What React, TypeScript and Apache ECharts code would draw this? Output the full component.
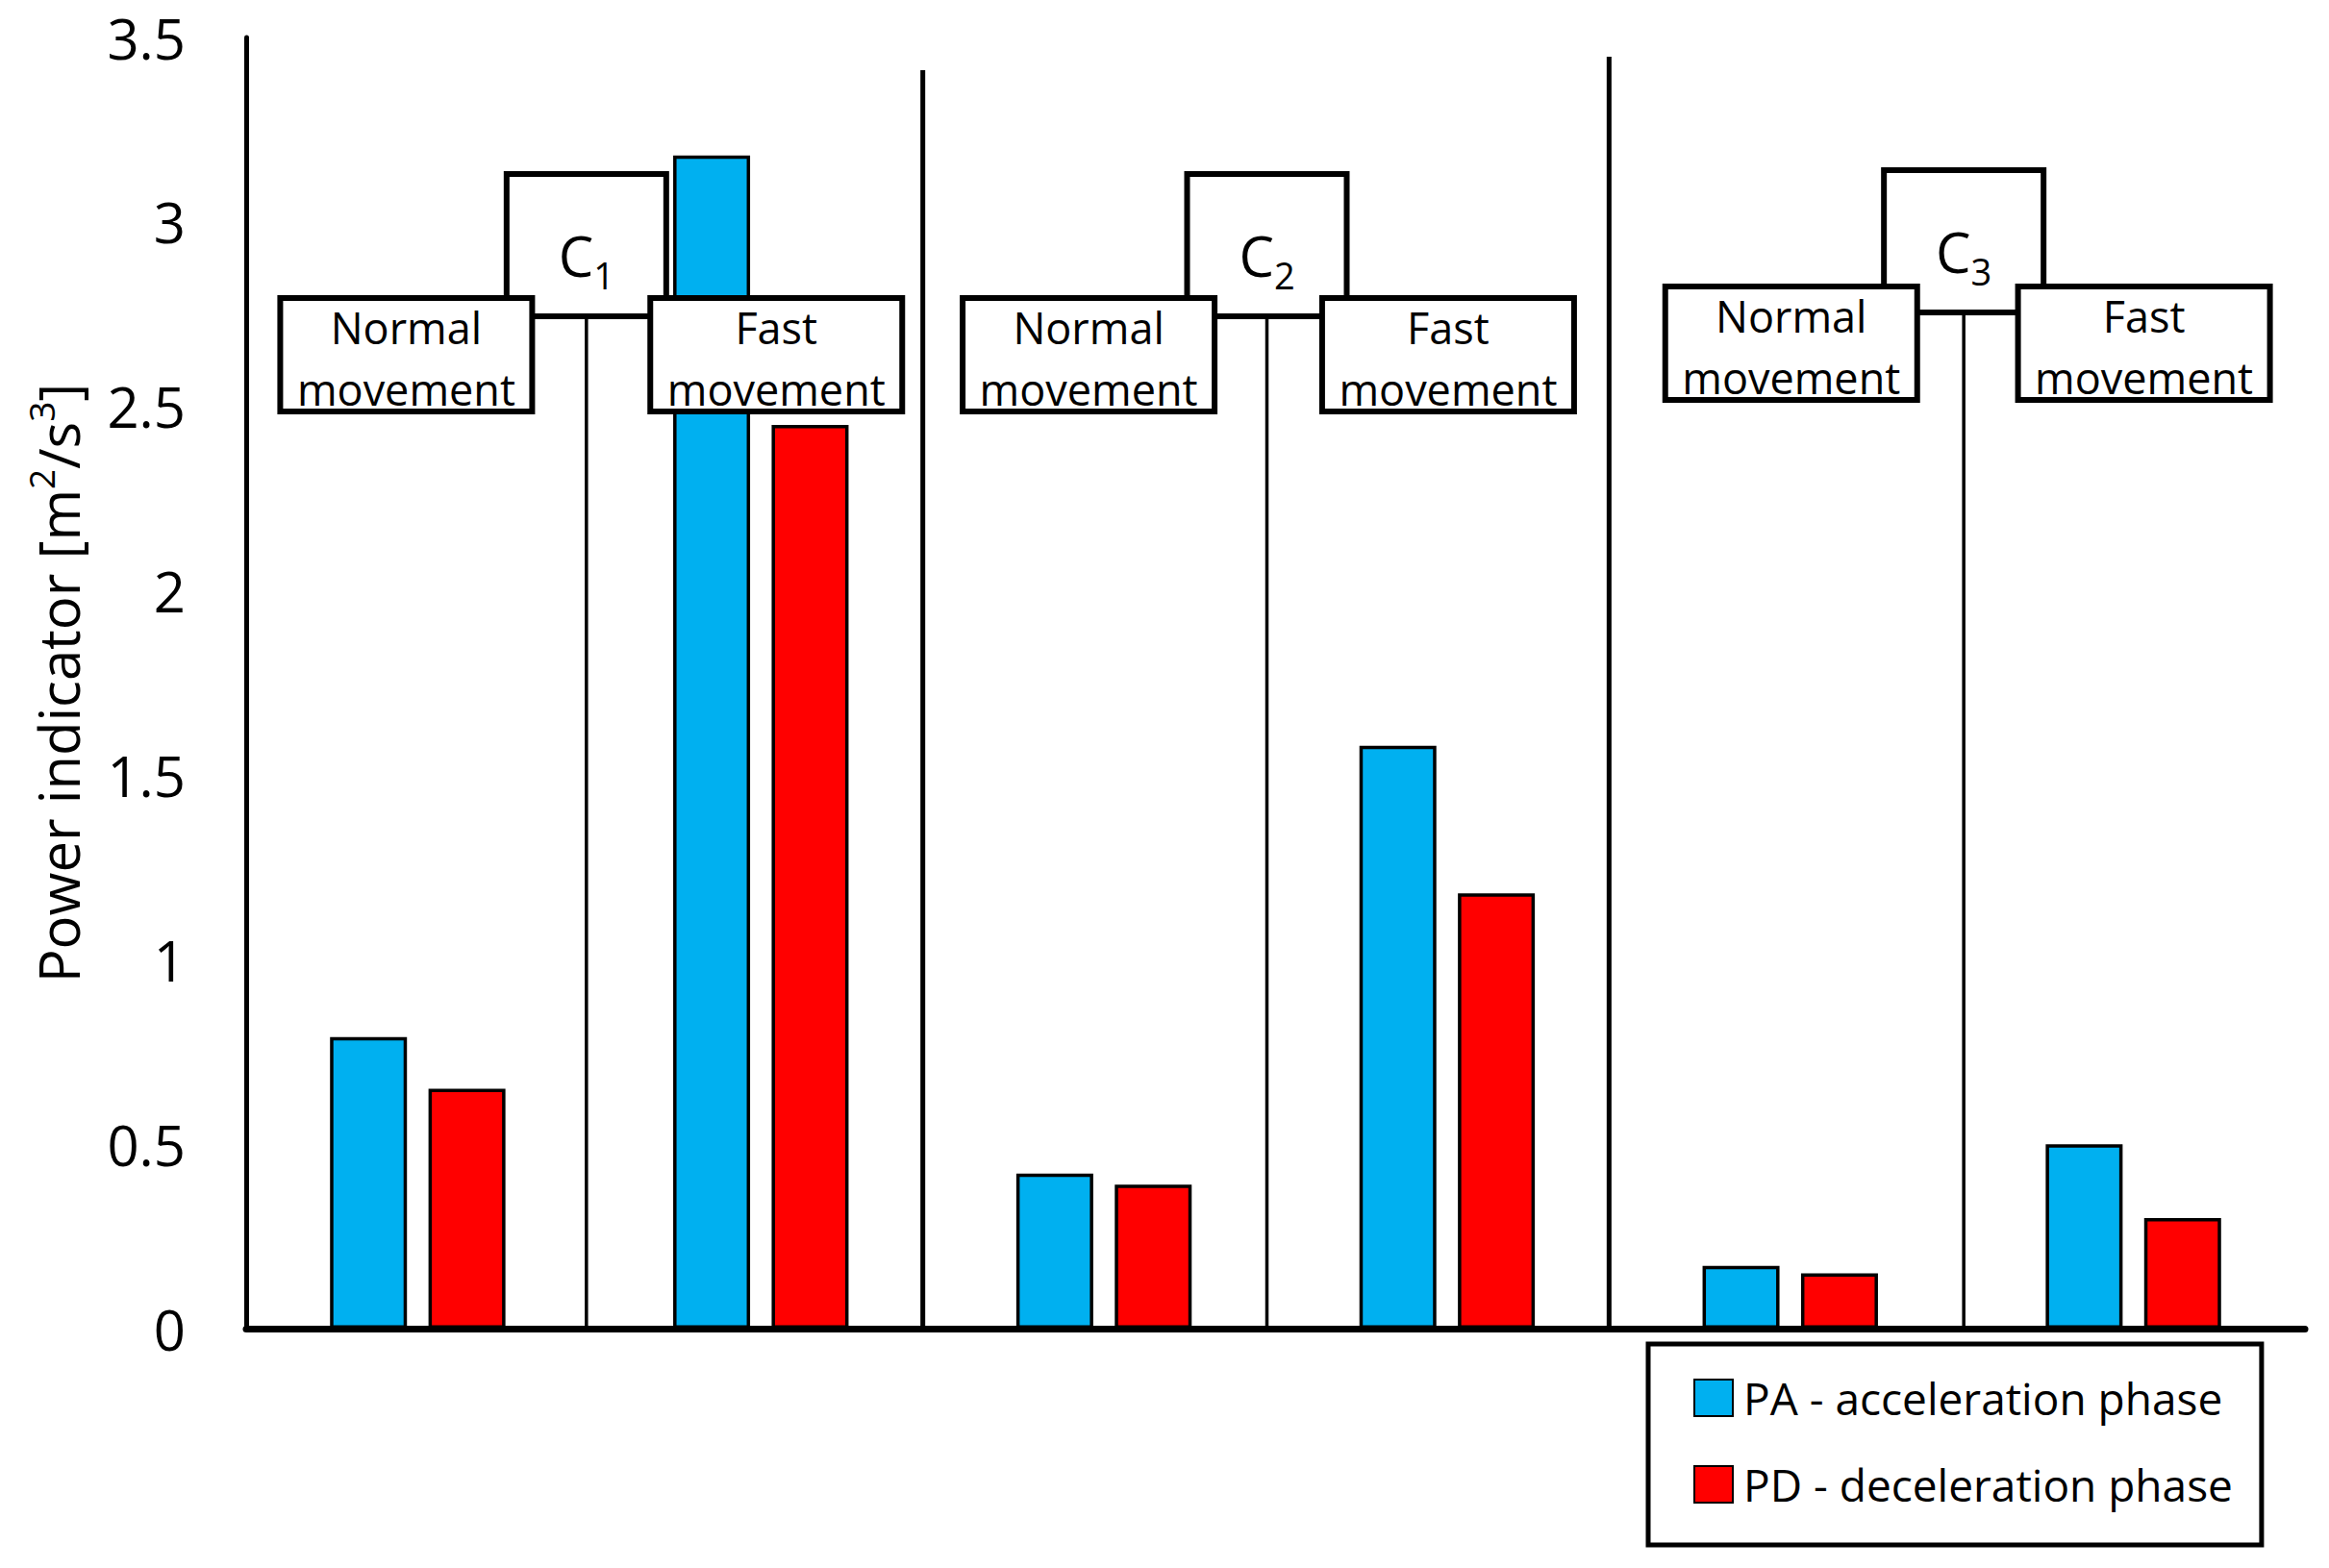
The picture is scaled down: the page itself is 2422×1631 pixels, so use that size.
import React, { useEffect, useRef } from "react";
import * as echarts from "echarts";

const groups = ["C1", "C2", "C3"];
const groupSubs = ["1", "2", "3"];
const movements = ["Normal movement", "Fast movement"];
const movementLines = [["Normal", "movement"], ["Fast", "movement"]];
const categories = groups.flatMap((g) => movements.map((m) => `${g} ${m}`));
const seriesNames = ["PA - acceleration phase", "PD - deceleration phase"];
const paValues = [0.79, 3.18, 0.42, 1.58, 0.17, 0.5];
const pdValues = [0.65, 2.45, 0.39, 1.18, 0.15, 0.3];
const yTicks = { min: 0, max: 3.5, interval: 0.5 };

const FONT = "'Open Sans', 'Noto Sans', sans-serif";
// layout tweaks (pixels)
const SEP_TOP = [0, 34, 20];
const C_SHIFT_Y = [0, 0, -4];
const LABEL_SHIFT_Y = [0, 0, -12];
const MID_SHIFT_X = [-3, -9, 2];
const LABEL_SHIFT_X = [
  [-12, 16],
  [-16, 1],
  [1, 11],
];

export default function App() {
  const ref = useRef<HTMLDivElement>(null);
  useEffect(() => {
    document.body.style.margin = "0";
    const chart = echarts.init(ref.current!, null, { renderer: "svg" });
    const renderItem = (params: any, api: any) => {
      const g = params.dataIndex;
      const cs = params.coordSys;
      const top = cs.y;
      const bottom = cs.y + cs.height;
      const xa = api.coord([2 * g, 0])[0];
      const xb = api.coord([2 * g + 1, 0])[0];
      const mid = (xa + xb) / 2 + MID_SHIFT_X[g];
      const cs_ = C_SHIFT_Y[g];
      const ls = LABEL_SHIFT_Y[g];
      const children: any[] = [];
      if (g > 0) {
        const xp = api.coord([2 * g - 1, 0])[0];
        const xs = (xp + xa) / 2 - 10;
        children.push({
          type: "line",
          shape: { x1: xs, y1: top + SEP_TOP[g], x2: xs, y2: bottom },
          style: { stroke: "#000", lineWidth: 5 },
        });
      }
      const connY = top + 290 + cs_;
      children.push({
        type: "line",
        shape: { x1: mid, y1: connY, x2: mid, y2: bottom },
        style: { stroke: "#000", lineWidth: 3.5 },
      });
      children.push({
        type: "rect",
        shape: { x: mid - 83, y: top + 142 + cs_, width: 166, height: 148 },
        style: { fill: "#fff", stroke: "#000", lineWidth: 6 },
      });
      children.push({
        type: "text",
        x: mid,
        y: top + 226 + cs_,
        style: {
          text: `{c|C}{s|${groupSubs[g]}}`,
          align: "center",
          verticalAlign: "middle",
          fill: "#000",
          fontFamily: FONT,
          rich: {
            c: { fontSize: 58, lineHeight: 80, fontFamily: FONT, fill: "#000", verticalAlign: "middle" },
            s: { fontSize: 38, lineHeight: 34, fontFamily: FONT, fill: "#000", verticalAlign: "bottom" },
          },
        },
      });
      [xa, xb].forEach((cx, k) => {
        const bx = cx + LABEL_SHIFT_X[g][k];
        children.push({
          type: "rect",
          shape: { x: bx - 131, y: top + 271 + ls, width: 262, height: 118 },
          style: { fill: "#fff", stroke: "#000", lineWidth: 6 },
        });
        children.push({
          type: "text",
          x: bx,
          y: top + 333 + ls,
          style: {
            text: movementLines[k].join("\n"),
            align: "center",
            verticalAlign: "middle",
            fontSize: 45,
            lineHeight: 64,
            fontFamily: FONT,
            fill: "#000",
          },
        });
      });
      return { type: "group", children };
    };

    chart.setOption({
      animation: false,
      textStyle: { fontFamily: FONT },
      grid: { left: 256, right: 25, top: 39, bottom: 249, containLabel: false },
      legend: {
        data: seriesNames,
        orient: "vertical",
        left: 1714,
        top: 1398,
        itemWidth: 40,
        itemHeight: 38,
        itemGap: 44,
        padding: [33, 30, 40, 47],
        borderColor: "#000",
        borderWidth: 5,
        icon: "rect",
        textStyle: { fontSize: 46, color: "#000", fontFamily: FONT, padding: [0, 0, 0, 6] },
        selectedMode: false,
      },
      xAxis: {
        type: "category",
        data: categories,
        axisLine: { lineStyle: { color: "#000", width: 7 } },
        axisTick: { show: false },
        axisLabel: { show: false },
        splitLine: { show: false },
      },
      yAxis: {
        type: "value",
        min: yTicks.min,
        max: yTicks.max,
        interval: yTicks.interval,
        axisLine: { show: true, lineStyle: { color: "#000", width: 5 } },
        axisTick: { show: false },
        splitLine: { show: false },
        axisLabel: { fontSize: 58, color: "#000", margin: 63, fontFamily: FONT },
        name: "{t|Power indicator [m}{p|2}{t|/s}{p|3}{t|]}",
        nameLocation: "middle",
        nameRotate: 90,
        nameGap: 160,
        nameTextStyle: {
          rich: {
            t: { fontSize: 58, lineHeight: 72, color: "#000", fontFamily: FONT, verticalAlign: "middle" },
            p: { fontSize: 37, lineHeight: 40, color: "#000", fontFamily: FONT, verticalAlign: "top" },
          },
        },
      },
      series: [
        {
          name: seriesNames[0],
          type: "bar",
          data: paValues,
          barWidth: 80,
          barGap: "28%",
          itemStyle: { color: "#00B0F0", borderColor: "#000", borderWidth: 3.5 },
          z: 2,
        },
        {
          name: seriesNames[1],
          type: "bar",
          data: pdValues,
          barWidth: 80,
          barGap: "28%",
          itemStyle: { color: "#FF0000", borderColor: "#000", borderWidth: 3.5 },
          z: 2,
        },
        {
          type: "custom",
          coordinateSystem: "cartesian2d",
          renderItem,
          data: groups.map((_, g) => [2 * g, 0]),
          z: 10,
          silent: true,
          clip: false,
        },
      ],
    });
    return () => chart.dispose();
  }, []);
  return <div ref={ref} style={{ width: 2422, height: 1631 }} />;
}
